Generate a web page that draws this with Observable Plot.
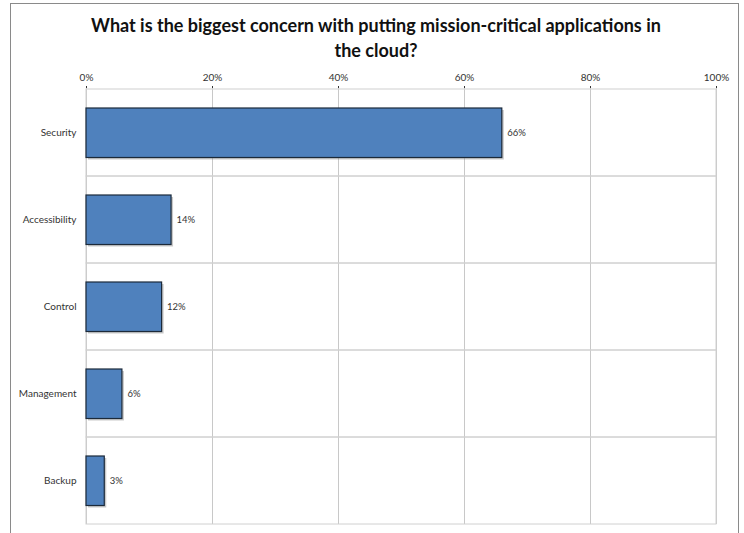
<!DOCTYPE html>
<html>
<head>
<meta charset="utf-8">
<script src="https://cdn.jsdelivr.net/npm/d3@7"></script>
<script src="https://cdn.jsdelivr.net/npm/@observablehq/plot@0.6"></script>
<style>
  html, body { margin: 0; padding: 0; background: #fff; }
  #wrap { position: relative; width: 744px; height: 533px; overflow: hidden; font-family: Lato, "Open Sans", sans-serif; }
  #border { position: absolute; left: 10px; top: 3px; width: 729px; height: 560px; border: 1px solid #8a8a8a; box-sizing: border-box; }
  #title { position: absolute; left: 11px; width: 730px; top: 13px; text-align: center; font-weight: bold; font-size: 18px; line-height: 25px; color: #111; }
  #chart { position: absolute; left: 0; top: 0; }
</style>
</head>
<body>
<div id="wrap">
  <div id="border"></div>
  <div id="title">What is the biggest concern with putting mission-critical applications in<br>the cloud?</div>
  <div id="chart"></div>
</div>
<script>
const categories = ["Security", "Accessibility", "Control", "Management", "Backup"];
const values = [0.66, 0.135, 0.12, 0.057, 0.029];
const labels = ["66%", "14%", "12%", "6%", "3%"];
const xTicks = [0, 0.2, 0.4, 0.6, 0.8, 1.0];

const data = categories.map((c, i) => ({category: c, value: values[i], label: labels[i]}));

const chart = Plot.plot({
  width: 744,
  height: 533,
  marginLeft: 86,
  marginRight: 28,
  marginTop: 88,
  marginBottom: 9,
  style: {fontFamily: "Lato, 'Open Sans', sans-serif", fontSize: "10px", color: "#333", background: "transparent"},
  x: {domain: [0, 1], axis: "top", ticks: xTicks, tickFormat: d3.format(".0%"), tickSize: 3, tickPadding: 5, label: null},
  y: {domain: categories, padding: 0, axis: "left", tickSize: 0, tickPadding: 10, label: null},
  marks: [
    Plot.gridX(xTicks, {stroke: "#c8c8c8", strokeOpacity: 1}),
    Plot.barX(categories, {x1: 0, x2: 1, y: d => d, fill: "none", stroke: "#d0d0d0", strokeWidth: 1}),
    Plot.barX(data, {x: "value", y: "category", insetTop: 19, insetBottom: 18.5, fill: "#888", fillOpacity: 0.45, dx: 2, dy: 2}),
    Plot.barX(data, {x: "value", y: "category", insetTop: 19, insetBottom: 18.5, fill: "#4f81bd", stroke: "#1c2a3a", strokeWidth: 1.2}),
    Plot.text(data, {x: "value", y: "category", text: "label", dx: 5, textAnchor: "start", fill: "#333", fontSize: 9.5})
  ]
});
document.getElementById("chart").appendChild(chart);
</script>
</body>
</html>
